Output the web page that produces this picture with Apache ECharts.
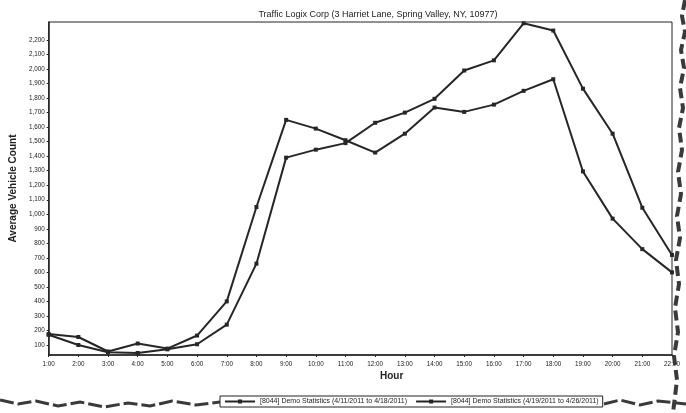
<!DOCTYPE html>
<html>
<head>
<meta charset="utf-8">
<script src="https://cdn.jsdelivr.net/npm/echarts@6/dist/echarts.min.js"></script>
<style>
  html, body { margin: 0; padding: 0; background: #fff; }
  #main { width: 686px; height: 413px; }
</style>
</head>
<body>
<div id="main"></div>
<script>
// hours on the x axis
var hours = ['1:00','2:00','3:00','4:00','5:00','6:00','7:00','8:00','9:00','10:00','11:00',
  '12:00','13:00','14:00','15:00','16:00','17:00','18:00','19:00','20:00','21:00','22:00'];

// average vehicle count per hour, one array per period
var weekOne = [175, 155, 55, 110, 75, 165, 400, 1050, 1650, 1590, 1510, 1425, 1555, 1735,
  1705, 1755, 1850, 1930, 1295, 970, 760, 600];
var weekTwo = [170, 100, 50, 45, 70, 105, 240, 660, 1390, 1445, 1490, 1630, 1700, 1795,
  1990, 2060, 2315, 2265, 1865, 1555, 1045, 720];

var seriesNames = [
  '[8044] Demo Statistics (4/11/2011 to 4/18/2011)',
  '[8044] Demo Statistics (4/19/2011 to 4/26/2011)'
];

// y tick labels
var yTicks = [100,200,300,400,500,600,700,800,900,1000,1100,1200,1300,1400,1500,
  1600,1700,1800,1900,2000,2100,2200];

var chart = echarts.init(document.getElementById('main'));

var lineColor = '#262626';
function makeSeries(name, data) {
  return {
    name: name,
    type: 'line',
    data: data,
    symbol: 'rect',
    symbolSize: 4,
    lineStyle: { color: lineColor, width: 2 },
    itemStyle: { color: lineColor },
    animation: false
  };
}

// torn paper edges of the scan (decoration only)
var tearColor = '#3a3a3a';
var rightEdge = [[685,0],[682,16],[685,32],[681,50],[684,68],[680,88],[683,108],[679,128],
  [682,150],[678,172],[681,194],[677,216],[680,238],[676,260],[679,284],[675,308],
  [678,332],[674,356],[677,380],[673,413]];
var bottomLeft = [[0,400],[18,404],[36,401],[58,406],[80,402],[104,407],[128,403],
  [150,406],[172,401],[196,405],[220,402]];
var bottomRight = [[604,404],[620,400],[640,405],[658,401],[686,404]];

chart.setOption({
  backgroundColor: '#fff',
  textStyle: { fontFamily: 'Liberation Sans, Arial, sans-serif' },
  title: {
    text: 'Traffic Logix Corp (3 Harriet Lane, Spring Valley, NY, 10977)',
    left: 373,
    top: 5,
    textAlign: 'center',
    textStyle: { fontSize: 9, fontWeight: 'normal', color: '#222' }
  },
  legend: {
    data: seriesNames,
    left: 220,
    top: 396,
    itemWidth: 30,
    itemHeight: 5,
    itemGap: 8,
    padding: [2, 4],
    borderColor: '#222',
    borderWidth: 1,
    backgroundColor: '#fff',
    textStyle: { fontSize: 7, color: '#222' }
  },
  grid: {
    left: 47,
    right: 14,
    top: 22,
    bottom: 58,
    show: true,
    borderColor: '#222',
    borderWidth: 1
  },
  xAxis: {
    type: 'category',
    data: hours,
    boundaryGap: false,
    axisLine: { lineStyle: { color: '#222', width: 1.5 } },
    axisTick: { show: true, length: 2, lineStyle: { color: '#222' } },
    axisLabel: { fontSize: 6.3, color: '#222', margin: 6, interval: 0 },
    splitLine: { show: false }
  },
  yAxis: {
    type: 'value',
    min: 31,
    max: 2324,
    name: 'Average Vehicle Count',
    nameLocation: 'middle',
    nameGap: 30,
    nameTextStyle: { fontSize: 10, fontWeight: 'bold', color: '#222' },
    axisLine: { show: true, lineStyle: { color: '#222', width: 1.5 } },
    axisTick: { show: true, length: 2, customValues: yTicks, lineStyle: { color: '#222' } },
    axisLabel: {
      fontSize: 6.3,
      color: '#222',
      margin: 4,
      customValues: yTicks,
      formatter: function (v) { return v.toLocaleString('en-US'); }
    },
    splitLine: { show: false }
  },
  graphic: [
    {
      type: 'text',
      left: 380,
      top: 371,
      style: { text: 'Hour', fontSize: 10, fontWeight: 'bold', fill: '#222',
        fontFamily: 'Liberation Sans, Arial, sans-serif' }
    },
    { type: 'polyline', z: 100, shape: { points: rightEdge },
      style: { stroke: tearColor, lineWidth: 4, lineDash: [10, 5], fill: null } },
    { type: 'polyline', z: 1, shape: { points: bottomLeft },
      style: { stroke: tearColor, lineWidth: 3, lineDash: [14, 4], fill: null } },
    { type: 'polyline', z: 1, shape: { points: bottomRight },
      style: { stroke: tearColor, lineWidth: 3, lineDash: [14, 4], fill: null } }
  ],
  series: [
    makeSeries(seriesNames[0], weekOne),
    makeSeries(seriesNames[1], weekTwo)
  ]
});
</script>
</body>
</html>
